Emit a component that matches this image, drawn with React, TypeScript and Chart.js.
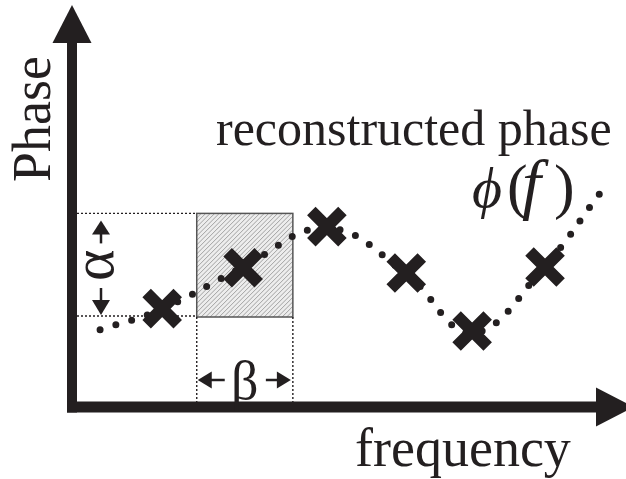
import React, { useEffect, useRef } from "react";
import { Chart, registerables } from "chart.js";

Chart.register(...registerables);

// Reconstructed phase curve (knots of the dotted spline), frequency vs phase in arbitrary units
const curveFreq = [0.52, 1.67, 3.17, 4.72, 6.19, 7.41, 8.76, 9.78];
const curvePhase = [1.93, 2.45, 3.50, 4.48, 3.33, 1.85, 3.53, 5.35];

// Measured phase samples (drawn as crosses)
const sampleFreq = [1.67, 3.17, 4.72, 6.19, 7.41, 8.76];
const samplePhase = [2.46, 3.48, 4.51, 3.35, 1.90, 3.50];

// Shaded window: beta spans the frequency range, alpha the phase range
const windowFreq = [2.31, 4.09];
const windowPhase = [2.25, 4.84];

// Text
const yTitle = "Phase";
const xTitle = "frequency";
const curveTitle = "reconstructed phase";
const curveSymbol = ["ϕ", "(", "f", ")"];
const alphaLabel = "α";
const betaLabel = "β";

const INK = "#231f20";
const SERIF = '"Liberation Serif", "Times New Roman", "DejaVu Serif", serif';

type Ctx = CanvasRenderingContext2D;

function head(ctx: Ctx, tx: number, ty: number, ux: number, uy: number, len: number, half: number) {
  const bx = tx - ux * len;
  const by = ty - uy * len;
  const px = -uy;
  const py = ux;
  ctx.beginPath();
  ctx.moveTo(tx, ty);
  ctx.lineTo(bx + px * half, by + py * half);
  ctx.lineTo(bx - px * half, by - py * half);
  ctx.closePath();
  ctx.fill();
}

function arrow(ctx: Ctx, fx: number, fy: number, tx: number, ty: number, shaft: number, len: number, half: number) {
  const dx = tx - fx;
  const dy = ty - fy;
  const d = Math.hypot(dx, dy);
  const ux = dx / d;
  const uy = dy / d;
  ctx.lineWidth = shaft;
  ctx.lineCap = "butt";
  ctx.beginPath();
  ctx.moveTo(fx, fy);
  ctx.lineTo(tx - ux * (len - 1), ty - uy * (len - 1));
  ctx.stroke();
  head(ctx, tx, ty, ux, uy, len, half);
}

const diagramPlugin = {
  id: "phaseDiagram",
  beforeDatasetsDraw(chart: any) {
    const { ctx, chartArea, scales } = chart;
    const x = scales.x;
    const y = scales.y;
    const bx0 = x.getPixelForValue(windowFreq[0]);
    const bx1 = x.getPixelForValue(windowFreq[1]);
    const by0 = y.getPixelForValue(windowPhase[1]);
    const by1 = y.getPixelForValue(windowPhase[0]);
    const w = bx1 - bx0;
    const h = by1 - by0;

    // hatched window
    ctx.save();
    ctx.beginPath();
    ctx.rect(bx0, by0, w, h);
    ctx.fillStyle = "#ededed";
    ctx.fill();
    ctx.clip();
    ctx.strokeStyle = "#9a9a9a";
    ctx.lineWidth = 0.9;
    ctx.beginPath();
    for (let k = -h; k < w + 5; k += 4.5) {
      ctx.moveTo(bx0 + k, by1);
      ctx.lineTo(bx0 + k + h, by0);
    }
    ctx.stroke();
    ctx.restore();

    ctx.save();
    ctx.strokeStyle = "#555555";
    ctx.lineWidth = 1.5;
    ctx.strokeRect(bx0, by0, w, h);

    // dotted guides
    ctx.strokeStyle = INK;
    ctx.lineWidth = 1.4;
    ctx.setLineDash([2, 2]);
    ctx.beginPath();
    ctx.moveTo(chartArea.left + 5, by0);
    ctx.lineTo(bx0, by0);
    ctx.moveTo(chartArea.left + 5, by1 - 1);
    ctx.lineTo(bx0, by1 - 1);
    ctx.moveTo(bx0, by1);
    ctx.lineTo(bx0, chartArea.bottom - 5);
    ctx.moveTo(bx1, by1);
    ctx.lineTo(bx1, chartArea.bottom - 5);
    ctx.stroke();
    ctx.restore();
  },
  afterDatasetsDraw(chart: any) {
    const { ctx, chartArea, scales } = chart;
    const x = scales.x;
    const y = scales.y;
    const bx0 = x.getPixelForValue(windowFreq[0]);
    const bx1 = x.getPixelForValue(windowFreq[1]);
    const by0 = y.getPixelForValue(windowPhase[1]);
    const by1 = y.getPixelForValue(windowPhase[0]);
    const { left, bottom, top } = chartArea;

    ctx.save();
    ctx.fillStyle = INK;
    ctx.strokeStyle = INK;

    // axes with arrow heads
    ctx.lineWidth = 10;
    ctx.lineCap = "butt";
    ctx.beginPath();
    ctx.moveTo(left, bottom + 5.5);
    ctx.lineTo(left, top + 36);
    ctx.stroke();
    head(ctx, left, top - 2, 0, -1, 38, 19.5);

    ctx.lineWidth = 11;
    ctx.beginPath();
    ctx.moveTo(left - 5, bottom);
    ctx.lineTo(600, bottom);
    ctx.stroke();
    head(ctx, 634, bottom, 1, 0, 38, 19.5);

    // alpha: phase extent of the window
    const ax = left + 29;
    arrow(ctx, ax, by0 + 30, ax, by0 + 7, 2.5, 14, 9);
    arrow(ctx, ax, by1 - 29, ax, by1 - 2, 2.5, 15, 9);

    // beta: frequency extent of the window
    const byy = bottom - 27;
    arrow(ctx, bx0 + 28, byy, bx0 + 1, byy, 2.5, 14, 8.5);
    arrow(ctx, bx1 - 27, byy, bx1 - 2, byy, 2.5, 14, 8.5);

    ctx.textBaseline = "alphabetic";

    ctx.font = `54px ${SERIF}`;
    ctx.textAlign = "center";
    ctx.fillText(betaLabel, (bx0 + bx1) / 2, bottom - 8);

    ctx.save();
    ctx.translate(ax + 12, (by0 + by1) / 2);
    ctx.rotate(-Math.PI / 2);
    ctx.font = `60px ${SERIF}`;
    ctx.textAlign = "center";
    ctx.fillText(alphaLabel, 0, 0);
    ctx.restore();

    // axis titles
    ctx.save();
    ctx.translate(50, 182);
    ctx.rotate(-Math.PI / 2);
    ctx.font = `54px ${SERIF}`;
    ctx.textAlign = "left";
    ctx.fillText(yTitle, 0, 0);
    ctx.restore();

    ctx.textAlign = "left";
    ctx.font = `54px ${SERIF}`;
    ctx.fillText(xTitle, 355, 466);

    // curve caption
    ctx.font = `50px ${SERIF}`;
    ctx.fillText(curveTitle, 216, 145);

    const partX = [472, 507, 522, 554];
    const partItalic = [true, false, true, false];
    const partSize = [58, 62, 68, 62];
    curveSymbol.forEach((s, i) => {
      ctx.font = `${partItalic[i] ? "italic " : ""}${partSize[i]}px ${SERIF}`;
      ctx.fillText(s, partX[i], 207);
    });

    ctx.restore();
  },
};

export default function App() {
  const canvasRef = useRef<HTMLCanvasElement | null>(null);

  useEffect(() => {
    const canvas = canvasRef.current;
    if (!canvas) return;
    const chart = new Chart(canvas, {
      type: "line",
      data: {
        datasets: [
          {
            label: "samples",
            data: sampleFreq.map((f, i) => ({ x: f, y: samplePhase[i] })),
            showLine: false,
            pointStyle: "crossRot",
            pointRadius: 22,
            pointHoverRadius: 22,
            pointBorderWidth: 12,
            pointBorderColor: INK,
            pointBackgroundColor: INK,
            borderColor: INK,
          },
          {
            label: "reconstructed phase",
            data: curveFreq.map((f, i) => ({ x: f, y: curvePhase[i] })),
            borderColor: INK,
            borderWidth: 7,
            borderDash: [0, 16.5],
            borderCapStyle: "round",
            tension: 0.4,
            pointRadius: 0,
            pointHoverRadius: 0,
            fill: false,
          },
        ],
      },
      options: {
        responsive: false,
        animation: false,
        devicePixelRatio: 1,
        events: [],
        layout: { autoPadding: false, padding: { left: 72, right: 14, top: 7, bottom: 72 } },
        scales: {
          x: { type: "linear", min: 0, max: 10, display: false },
          y: { type: "linear", min: 0, max: 10, display: false },
        },
        plugins: {
          legend: { display: false },
          tooltip: { enabled: false },
        },
      },
      plugins: [diagramPlugin],
    } as any);
    return () => chart.destroy();
  }, []);

  return (
    <div style={{ position: "fixed", left: 0, top: 0, width: 626, height: 479, background: "#ffffff" }}>
      <canvas ref={canvasRef} width={626} height={479} style={{ display: "block" }} />
    </div>
  );
}
